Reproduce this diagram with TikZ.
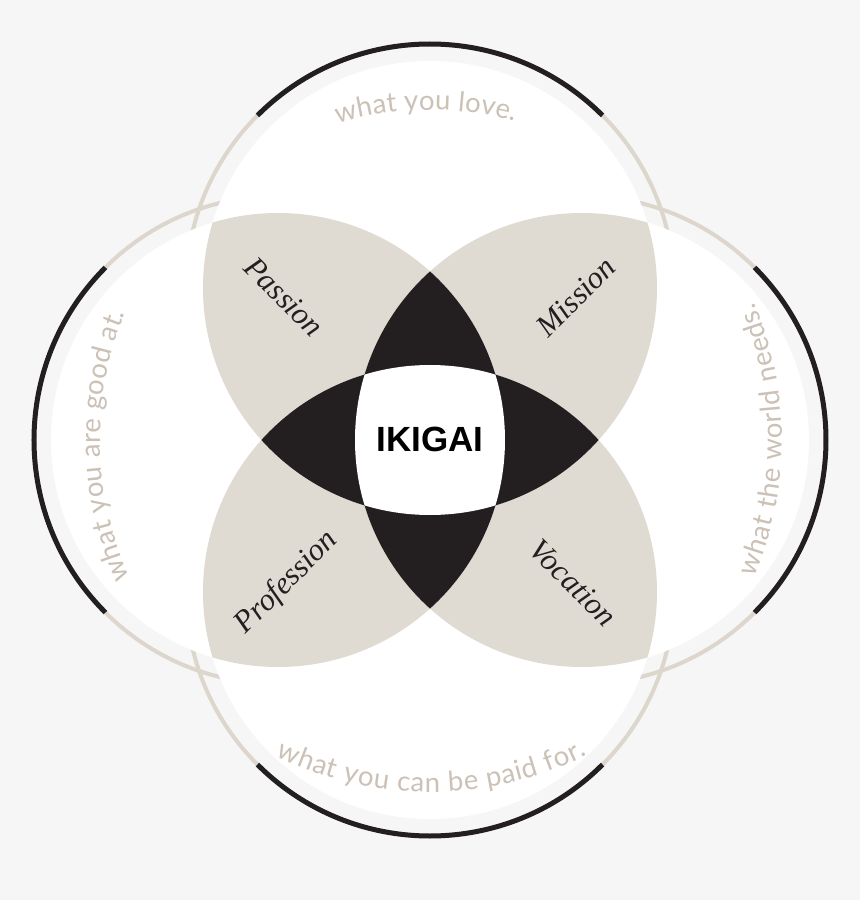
\documentclass[tikz,border=0pt]{standalone}
\usepackage{fontspec}
\usepackage{tikz}
\usetikzlibrary{decorations.text}

\newfontfamily\arcfont{Lato}
\newfontfamily\corefont{Liberation Sans}
\newfontfamily\zonefont{Liberation Serif}
\definecolor{paper}{HTML}{F6F6F6}
\definecolor{sand}{HTML}{E0DBD2}
\definecolor{ringsand}{HTML}{DDD6CC}
\definecolor{sandtext}{HTML}{CBC1B6}
\definecolor{ink}{HTML}{231F20}

\begin{document}
\begin{tikzpicture}[x=1pt,y=1pt,
    ring/.style={draw=ringsand,line width=4pt},
    outerarc/.style={draw=ink,line width=5pt},
    zone/.style={font=\zonefont\itshape\fontsize{31}{31}\selectfont,text=ink},
    arctext/.style={decorate,decoration={text along path,text align={fit to path},
      text={|\arcfont\fontsize{27.5}{27.5}\selectfont\color{sandtext}|#1}}}]

  \fill[paper] (-430,-460) rectangle (430,440);
  \useasboundingbox (-430,-460) rectangle (430,440);

  % the four circles
  \coordinate (love) at (0,152);
  \coordinate (good) at (-152,0);
  \coordinate (needs) at (152,0);
  \coordinate (paid) at (0,-152);

  \foreach \c in {love,good,needs,paid}
    \draw[ring] (\c) circle (244);
  \draw[outerarc] (love) ++(45:244) arc[start angle=45,end angle=135,radius=244];
  \draw[outerarc] (good) ++(135:244) arc[start angle=135,end angle=225,radius=244];
  \draw[outerarc] (paid) ++(225:244) arc[start angle=225,end angle=315,radius=244];
  \draw[outerarc] (needs) ++(-45:244) arc[start angle=-45,end angle=45,radius=244];

  \foreach \c in {love,good,needs,paid}
    \fill[white] (\c) circle (227);

  % overlaps of two
  \foreach \a/\b in {love/good,love/needs,paid/good,paid/needs} {
    \begin{scope}
      \clip (\a) circle (227);
      \fill[sand] (\b) circle (227);
    \end{scope}
  }
  % overlaps of three
  \foreach \a/\b/\c in {love/good/needs,love/good/paid,love/needs/paid,good/needs/paid} {
    \begin{scope}
      \clip (\a) circle (227);
      \clip (\b) circle (227);
      \fill[ink] (\c) circle (227);
    \end{scope}
  }
  % all four
  \begin{scope}
    \clip (love) circle (227);
    \clip (good) circle (227);
    \clip (needs) circle (227);
    \fill[white] (paid) circle (227);
  \end{scope}

  \node[zone,rotate=-45] (passion) at (-146,143) {Passion};
  \node[zone,rotate=45] (mission) at (146,143) {Mission};
  \node[zone,rotate=45] (profession) at (-143,-143) {Profession};
  \node[zone,rotate=-45] (vocation) at (143,-143) {Vocation};
  \node[font=\corefont\bfseries\fontsize{35}{35}\selectfont,text=black] (ikigai) at (0,1) {IKIGAI};

  % words round the rim
  \path[arctext={what you love.}] (106.3:330) arc[start angle=106.3,end angle=75.1,radius=330];
  \path[arctext={what you are good at.}] (204.6:330) arc[start angle=204.6,end angle=157.4,radius=330];
  \path[arctext={what the world needs.}] (-23:352) arc[start angle=-23,end angle=23,radius=352];
  \path[arctext={what you can be paid for.}] (244:352) arc[start angle=244,end angle=296.6,radius=352];
\end{tikzpicture}
\end{document}
